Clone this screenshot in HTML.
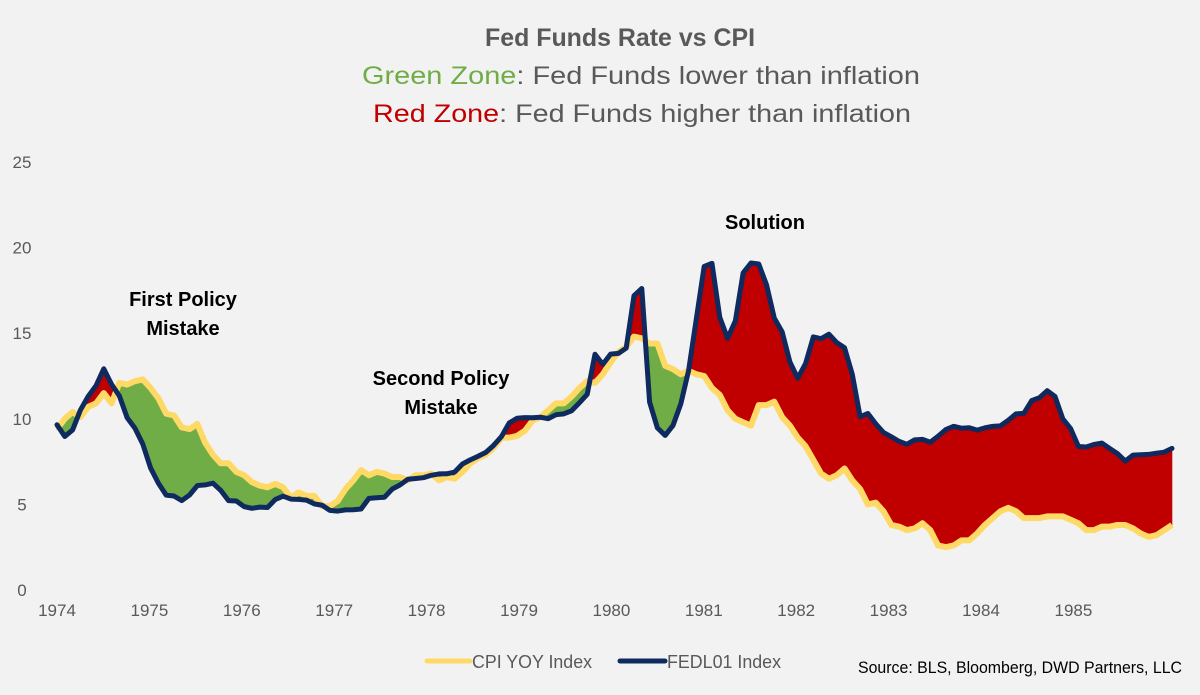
<!DOCTYPE html>
<html><head><meta charset="utf-8"><style>
html,body{margin:0;padding:0;background:#f2f2f2;}
svg{display:block;font-family:"Liberation Sans",sans-serif;}
</style></head><body>
<svg id="chart" width="1200" height="695" viewBox="0 0 1200 695" xmlns="http://www.w3.org/2000/svg">
<rect width="1200" height="695" fill="#f2f2f2"/>
<g text-anchor="middle" font-size="25">
<text x="620" y="46" font-weight="bold" fill="#595959" textLength="270" lengthAdjust="spacingAndGlyphs">Fed Funds Rate vs CPI</text>
<text x="641" y="84" fill="#595959" textLength="558" lengthAdjust="spacingAndGlyphs"><tspan fill="#70ad47">Green Zone</tspan>: Fed Funds lower than inflation</text>
<text x="642" y="122" fill="#595959" textLength="538" lengthAdjust="spacingAndGlyphs"><tspan fill="#c00000">Red Zone</tspan>: Fed Funds higher than inflation</text>
</g>
<g id="yaxis"></g>
<g id="xaxis"></g>
<g id="fills"></g>
<g id="lines"></g>
<g font-weight="bold" font-size="20" fill="#000" text-anchor="middle">
<text x="183" y="306">First Policy</text>
<text x="183" y="335">Mistake</text>
<text x="441" y="385">Second Policy</text>
<text x="441" y="414">Mistake</text>
<text x="765" y="229">Solution</text>
</g>
<g font-size="18" fill="#595959">
<line x1="427" y1="661" x2="470" y2="661" stroke="#ffd966" stroke-width="5" stroke-linecap="round"/>
<text x="472" y="668" textLength="120" lengthAdjust="spacingAndGlyphs">CPI YOY Index</text>
<line x1="620" y1="661" x2="665" y2="661" stroke="#0e2a5e" stroke-width="5" stroke-linecap="round"/>
<text x="667" y="668" textLength="114" lengthAdjust="spacingAndGlyphs">FEDL01 Index</text>
</g>
<text x="1182" y="673" text-anchor="end" font-size="17" fill="#000" textLength="324" lengthAdjust="spacingAndGlyphs">Source: BLS, Bloomberg, DWD Partners, LLC</text>
</svg>
<script>
const years = ["1974","1975","1976","1977","1978","1979","1980","1981","1982","1983","1984","1985"];
const yTicks = [0,5,10,15,20,25];
const cpi = [
9.4,10.0,10.4,10.1,10.7,10.9,11.5,10.9,12.1,12.0,12.2,12.3,
11.8,11.2,10.3,10.2,9.5,9.4,9.7,8.6,7.9,7.4,7.4,6.9,
6.7,6.3,6.1,6.0,6.2,6.0,5.4,5.7,5.5,5.5,4.9,4.9,
5.2,5.9,6.4,7.0,6.7,6.9,6.8,6.6,6.6,6.4,6.7,6.7,
6.8,6.4,6.6,6.5,6.9,7.4,7.7,7.9,8.3,8.9,8.9,9.0,
9.3,9.9,10.1,10.5,10.9,10.9,11.3,11.8,12.2,12.1,12.6,13.3,
13.9,14.2,14.8,14.7,14.4,14.4,13.1,12.9,12.6,12.8,12.6,12.5,
11.8,11.4,10.5,10.0,9.8,9.6,10.8,10.8,11.0,10.1,9.6,8.9,
8.4,7.6,6.8,6.5,6.7,7.1,6.4,5.9,5.0,5.1,4.6,3.8,
3.7,3.5,3.6,3.9,3.5,2.6,2.5,2.6,2.9,2.9,3.3,3.8,
4.2,4.6,4.8,4.6,4.2,4.2,4.2,4.3,4.3,4.3,4.1,3.9,
3.5,3.5,3.7,3.7,3.8,3.8,3.6,3.3,3.1,3.2,3.5,3.8];
const fedFunds = [
9.65,8.97,9.35,10.51,11.31,11.93,12.92,12.01,11.34,10.06,9.45,8.53,
7.13,6.24,5.54,5.49,5.22,5.55,6.10,6.14,6.24,5.82,5.22,5.20,
4.87,4.77,4.84,4.82,5.29,5.48,5.31,5.29,5.25,5.03,4.95,4.65,
4.61,4.68,4.69,4.73,5.35,5.39,5.42,5.90,6.14,6.47,6.51,6.56,
6.70,6.78,6.79,6.89,7.36,7.60,7.81,8.04,8.45,8.96,9.76,10.03,
10.07,10.06,10.09,10.01,10.24,10.29,10.47,10.94,11.43,13.77,13.18,13.78,
13.82,14.13,17.19,17.61,10.98,9.47,9.03,9.61,10.87,12.81,15.85,18.90,
19.08,15.93,14.70,15.72,18.52,19.10,19.04,17.82,15.87,15.08,13.31,12.37,
13.22,14.78,14.68,14.94,14.45,14.15,12.59,10.12,10.31,9.71,9.20,8.95,
8.68,8.51,8.77,8.80,8.63,8.98,9.37,9.56,9.45,9.48,9.34,9.47,
9.56,9.59,9.91,10.29,10.32,11.06,11.23,11.64,11.30,9.99,9.43,8.38,
8.35,8.50,8.58,8.27,7.97,7.53,7.88,7.90,7.92,7.99,8.05,8.27];

const NS='http://www.w3.org/2000/svg';
const X0=57, X1=1172, Y0=590, YTOP=162, YMAX=25;
const n=cpi.length;
function xScale(i){return X0+(X1-X0)*i/(n-1);}
function yScale(v){return Y0-(Y0-YTOP)*v/YMAX;}
function mk(tag,attrs,parent){const e=document.createElementNS(NS,tag);for(const k in attrs)e.setAttribute(k,attrs[k]);parent.appendChild(e);return e;}

const ya=document.getElementById('yaxis');
yTicks.forEach(t=>{
  const tx=mk('text',{x:22,y:yScale(t)+6,'text-anchor':'middle','font-size':17,fill:'#595959'},ya);
  tx.textContent=t;
  
  
});
const xa=document.getElementById('xaxis');
years.forEach((y,k)=>{
  const tx=mk('text',{x:57+k*92.4,y:616,'text-anchor':'middle','font-size':17,fill:'#595959'},xa);
  tx.textContent=y;
  
  
});

const fills=document.getElementById('fills');
for(let i=0;i<n-1;i++){
  const d0=fedFunds[i]-cpi[i], d1=fedFunds[i+1]-cpi[i+1];
  const xa0=xScale(i), xb=xScale(i+1);
  function poly(t0,t1){
    const lerp=(a,b,t)=>a+(b-a)*t;
    const xs=[lerp(xa0,xb,t0),lerp(xa0,xb,t1)];
    const f=[lerp(fedFunds[i],fedFunds[i+1],t0),lerp(fedFunds[i],fedFunds[i+1],t1)];
    const c=[lerp(cpi[i],cpi[i+1],t0),lerp(cpi[i],cpi[i+1],t1)];
    const dm=lerp(d0,d1,(t0+t1)/2);
    const p=mk('polygon',{points:`${xs[0]},${yScale(f[0])} ${xs[1]},${yScale(f[1])} ${xs[1]},${yScale(c[1])} ${xs[0]},${yScale(c[0])}`,fill:dm>0?'#c00000':'#70ad47',stroke:dm>0?'#c00000':'#70ad47','stroke-width':0.6},fills);
    
    
  }
  if(d0*d1<0){const t=d0/(d0-d1);poly(0,t);poly(t,1);} else poly(0,1);
}

const lines=document.getElementById('lines');
const cpiPts=cpi.map((v,i)=>xScale(i)+','+yScale(v)).join(' ');
const ffPts=fedFunds.map((v,i)=>xScale(i)+','+yScale(v)).join(' ');
const l1=mk('polyline',{points:cpiPts,fill:'none',stroke:'#ffd966','stroke-width':6,'stroke-linejoin':'round'},lines);


const l2=mk('polyline',{points:ffPts,fill:'none',stroke:'#0e2a5e','stroke-width':5,'stroke-linejoin':'round','stroke-linecap':'round'},lines);


</script>
</body></html>
